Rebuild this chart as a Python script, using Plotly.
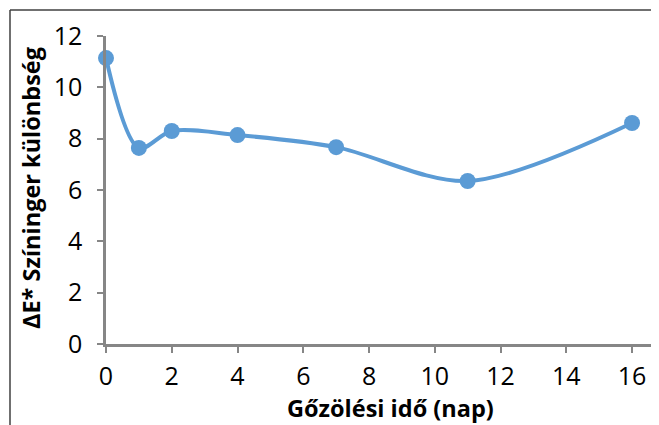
import plotly.graph_objects as go

days = [0, 1, 2, 4, 7, 11, 16]
delta_e = [11.14, 7.64, 8.30, 8.14, 7.67, 6.35, 8.61]

x_ticks = [0, 2, 4, 6, 8, 10, 12, 14, 16]
y_ticks = [0, 2, 4, 6, 8, 10, 12]

blue = '#5B9BD5'
axis_gray = '#868686'
font_family = 'Open Sans, sans-serif'

fig = go.Figure()
fig.add_trace(go.Scatter(
    x=days, y=delta_e, mode='lines+markers',
    line=dict(color=blue, width=4, shape='spline', smoothing=0.9),
    marker=dict(color=blue, size=16),
    cliponaxis=False, showlegend=False
))

fig.update_xaxes(
    range=[0, 16.82], tickvals=x_ticks, showgrid=False, zeroline=False,
    showline=True, linecolor=axis_gray, linewidth=2.5,
    ticks='outside', ticklen=6, tickwidth=2, tickcolor=axis_gray,
    ticklabelstandoff=2,
    tickfont=dict(size=25, color='black', family=font_family)
)
fig.update_yaxes(
    range=[0, 12], tickvals=y_ticks, showgrid=False, zeroline=False,
    showline=True, linecolor=axis_gray, linewidth=2.5,
    ticks='outside', ticklen=6, tickwidth=2, tickcolor=axis_gray,
    ticklabelstandoff=10,
    tickfont=dict(size=25, color='black', family=font_family)
)

# axis titles placed as annotations
title_font = dict(size=23.5, color='black', family=font_family)
fig.add_annotation(text='<b>Gőzölési idő (nap)</b>', xref='paper', yref='paper',
                   x=0.515, y=-0.208, xanchor='center', yanchor='middle',
                   showarrow=False, font=title_font)
fig.add_annotation(text='<b>ΔE* Színinger különbség</b>', xref='paper', yref='paper',
                   x=-0.1356, y=0.5065, xanchor='center', yanchor='middle',
                   textangle=-90, showarrow=False, font=title_font)

# chart frame (top and left edges visible)
fig.add_shape(type='line', xref='paper', yref='paper',
              x0=-0.1736, x1=1.0, y0=1.0844, y1=1.0844,
              line=dict(color='#404040', width=1.5))
fig.add_shape(type='line', xref='paper', yref='paper',
              x0=-0.1736, x1=-0.1736, y0=1.0844, y1=-0.3,
              line=dict(color='#404040', width=1.5))

fig.update_layout(
    width=651, height=417,
    margin=dict(l=98, r=0, t=28, b=81),
    plot_bgcolor='white', paper_bgcolor='white'
)

fig.write_html("out.html")
